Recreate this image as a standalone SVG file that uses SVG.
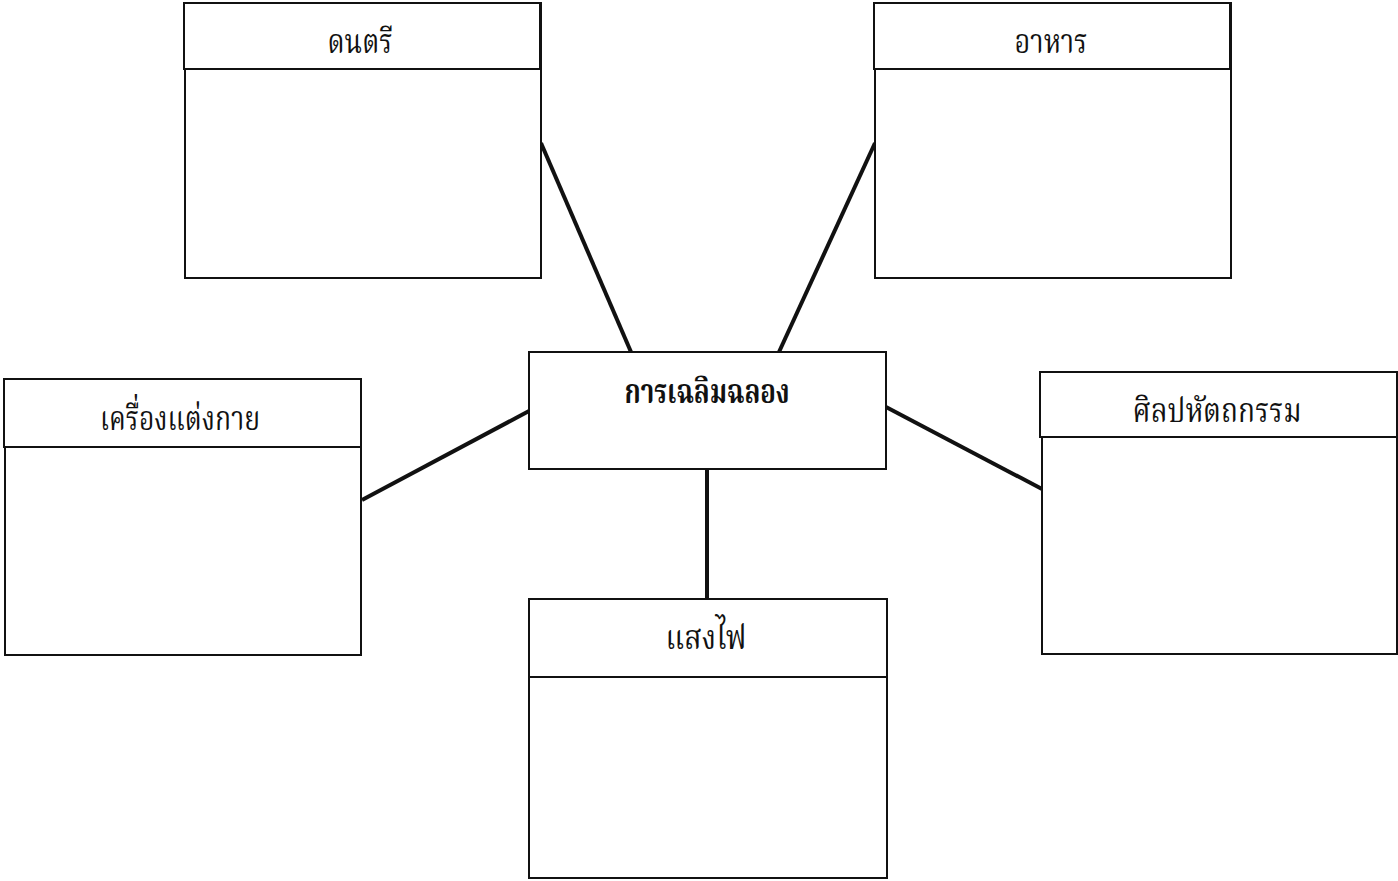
<svg xmlns="http://www.w3.org/2000/svg" width="1398" height="881" viewBox="0 0 1398 881">
<style>
.box{fill:#fff;stroke:#111;stroke-width:2}
.hdr{fill:#fff;stroke:#111;stroke-width:2}
.lbl{font-family:"Noto Serif Thai","Noto Sans Thai Looped","Noto Sans Thai","Loma","Garuda","DejaVu Sans",sans-serif;font-size:34px;fill:#111;text-anchor:middle}
.ctr{font-weight:bold}
.conn{stroke:#111;stroke-width:4;fill:none;stroke-linecap:butt}
</style>
<rect width="1398" height="881" fill="#fff"/>
<g id="connectors">
<line class="conn" x1="541" y1="143" x2="631" y2="352"/>
<line class="conn" x1="875" y1="143" x2="779" y2="352"/>
<line class="conn" x1="362" y1="500" x2="529" y2="411"/>
<line class="conn" x1="886" y1="407" x2="1042" y2="489"/>
<line class="conn" x1="707" y1="469" x2="707" y2="599"/>
</g>
<g id="node-music">
<rect class="box" x="185" y="3" width="356" height="275"/>
<rect class="hdr" x="184" y="3" width="356" height="66"/>
<text class="lbl" x="360" y="53" textLength="65" lengthAdjust="spacingAndGlyphs">ดนตรี</text>
</g>
<g id="node-food">
<rect class="box" x="875" y="3" width="356" height="275"/>
<rect class="hdr" x="874" y="3" width="356" height="66"/>
<text class="lbl" x="1051" y="53" textLength="73" lengthAdjust="spacingAndGlyphs">อาหาร</text>
</g>
<g id="node-costume">
<rect class="box" x="5" y="379" width="356" height="276"/>
<rect class="hdr" x="4" y="379" width="357" height="68"/>
<text class="lbl" x="180" y="430" textLength="160" lengthAdjust="spacingAndGlyphs">เครื่องแต่งกาย</text>
</g>
<g id="node-center">
<rect class="box" x="529" y="352" width="357" height="117"/>
<text class="lbl ctr" x="707" y="403" textLength="165" lengthAdjust="spacingAndGlyphs">การเฉลิมฉลอง</text>
</g>
<g id="node-craft">
<rect class="box" x="1042" y="372" width="355" height="282"/>
<rect class="hdr" x="1040" y="372" width="357" height="65"/>
<text class="lbl" x="1217" y="422" textLength="169" lengthAdjust="spacingAndGlyphs">ศิลปหัตถกรรม</text>
</g>
<g id="node-light">
<rect class="box" x="529" y="599" width="358" height="279"/>
<rect class="hdr" x="529" y="599" width="358" height="78"/>
<text class="lbl" x="706" y="649" textLength="81" lengthAdjust="spacingAndGlyphs">แสงไฟ</text>
</g>
</svg>
